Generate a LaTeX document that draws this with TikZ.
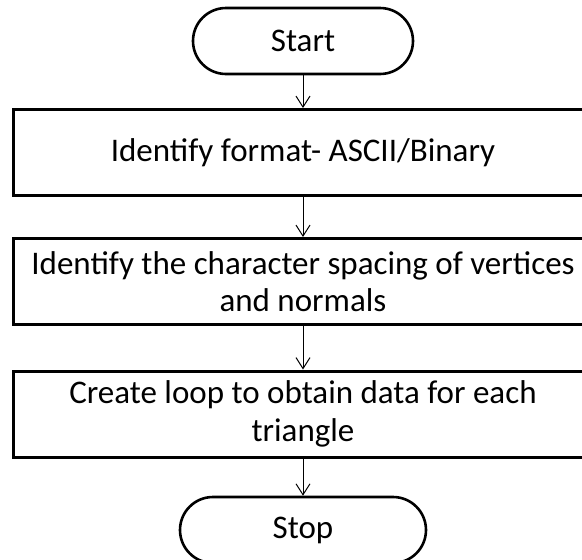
\documentclass[tikz,border=0pt]{standalone}
\usepackage{fontspec}
\setmainfont{Carlito}
\usetikzlibrary{arrows.meta,shapes.misc}

\begin{document}
\begin{tikzpicture}[x=1pt,y=-1pt,
  terminal/.style={rounded rectangle, draw, line width=2.6pt,
    minimum width=#1, minimum height=66pt, inner sep=0pt,
    font=\fontsize{33}{38}\selectfont},
  stepbox/.style={rectangle, draw, line width=3pt,
    minimum width=580pt, minimum height=86pt, inner sep=0pt,
    align=center, font=\fontsize{33}{37.5}\selectfont},
  flow/.style={-{Straight Barb[length=11pt,width=14pt]}, line width=1pt}]
  \useasboundingbox (0,0) rectangle (582,560);
  \clip (0,0) rectangle (582,560);

  % terminals and process steps, top to bottom
  \node[terminal=220pt] (start) at (303,41) {Start};
  \node[stepbox] (s1) at (303,152.5) {Identify format- ASCII/Binary};
  \node[stepbox] (s2) at (303,281.5) {Identify the character spacing of vertices\\and normals};
  \node[stepbox] (s3) at (303,414) {Create loop to obtain data for each\\triangle};
  \node[terminal=246pt] (stop) at (303,530) {Stop};

  % connectors
  \draw[flow] (start) -- (s1);
  \draw[flow] (s1) -- (s2);
  \draw[flow] (s2) -- (s3);
  \draw[flow] (s3) -- (stop);
\end{tikzpicture}
\end{document}
